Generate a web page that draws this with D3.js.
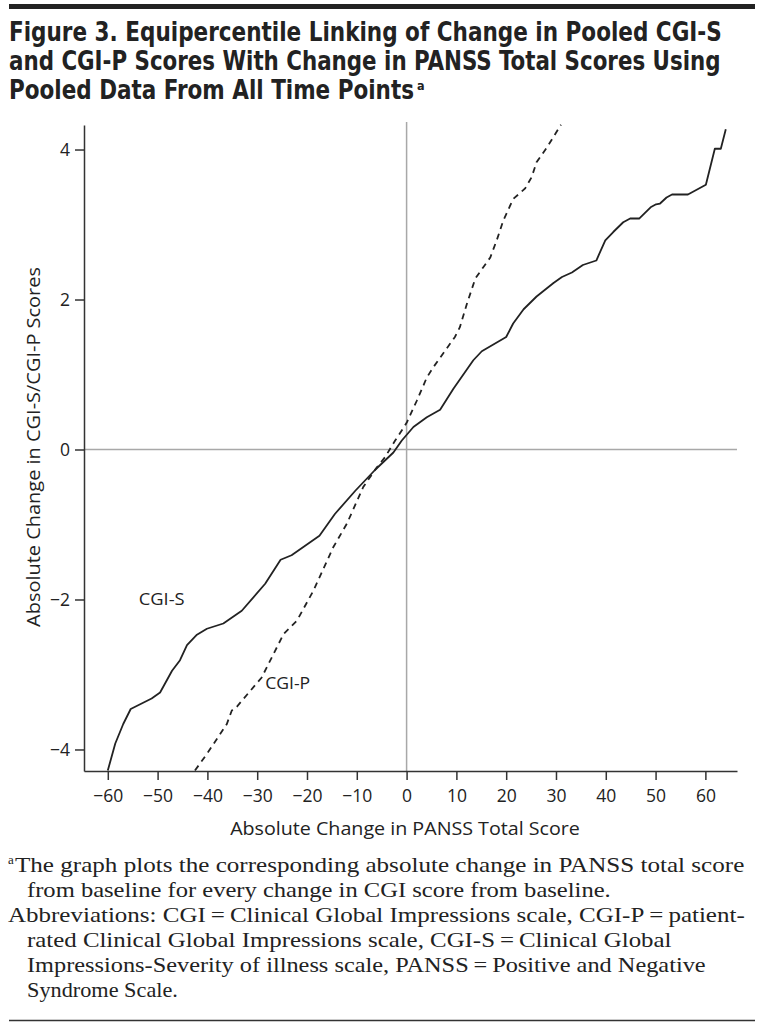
<!DOCTYPE html>
<html>
<head>
<meta charset="utf-8">
<script src="https://cdn.jsdelivr.net/npm/d3@7"></script>
<style>
html,body{margin:0;padding:0;background:#fff;}
svg{display:block;}
</style>
</head>
<body>
<svg id="chart" width="763" height="1024"></svg>
<script>
// ---- Data ----
const cgiS_x = [-60.0,-58.5,-56.9,-55.4,-51.2,-49.5,-47.1,-45.5,-44.1,-42.1,-40.1,-36.8,-33.1,-28.4,-25.3,-23.1,-17.5,-14.4,-10.3,-6.3,-2.65,-0.96,1.37,4.06,6.73,9.4,13.4,15.1,20.0,21.4,23.5,26.1,29.5,31.2,33.2,35.4,38.1,39.9,41.5,43.5,44.9,46.7,49.0,50.1,50.9,52.2,53.3,56.5,60.1,61.9,63.1,64.1];
const cgiS_y = [-4.28,-3.92,-3.66,-3.46,-3.32,-3.24,-2.95,-2.81,-2.61,-2.47,-2.39,-2.32,-2.15,-1.79,-1.47,-1.41,-1.15,-0.86,-0.55,-0.27,-0.04,0.12,0.30,0.43,0.53,0.81,1.19,1.31,1.50,1.68,1.87,2.04,2.22,2.30,2.36,2.46,2.52,2.79,2.90,3.03,3.08,3.08,3.23,3.27,3.28,3.36,3.40,3.40,3.53,4.01,4.01,4.27];
const cgiP_x = [-42.5,-40.1,-36.1,-35.1,-34.1,-29.1,-24.7,-22.0,-18.7,-14.7,-12.0,-8.7,-6.0,-4.3,-2.3,-1.3,0.04,2.05,4.06,5.4,9.7,10.7,12.1,13.8,15.4,16.8,18.1,19.4,21.4,23.8,25.1,26.1,28.2,31.0];
const cgiP_y = [-4.28,-4.06,-3.66,-3.48,-3.43,-3.04,-2.46,-2.28,-1.88,-1.30,-0.99,-0.50,-0.24,-0.10,0.12,0.22,0.36,0.65,0.96,1.10,1.50,1.63,1.94,2.28,2.43,2.56,2.79,3.05,3.34,3.48,3.63,3.83,4.03,4.33];
const xTicks = [-60,-50,-40,-30,-20,-10,0,10,20,30,40,50,60];
const yTicks = [-4,-2,0,2,4];
const titleLines = [
  "Figure 3. Equipercentile Linking of Change in Pooled CGI-S",
  "and CGI-P Scores With Change in PANSS Total Scores Using",
  "Pooled Data From All Time Points"
];
const footLines = [
  "The graph plots the corresponding absolute change in PANSS total score",
  "from baseline for every change in CGI score from baseline.",
  "Abbreviations: CGI\u2009=\u2009Clinical Global Impressions scale, CGI-P\u2009=\u2009patient-",
  "rated Clinical Global Impressions scale, CGI-S\u2009=\u2009Clinical Global",
  "Impressions-Severity of illness scale, PANSS\u2009=\u2009Positive and Negative",
  "Syndrome Scale."
];
const xTitle = "Absolute Change in PANSS Total Score";
const yTitle = "Absolute Change in CGI-S/CGI-P Scores";
const seriesLabels = ["CGI-S","CGI-P"];

// ---- Layout ----
const svg = d3.select("#chart");
const sansFont = "'Open Sans', 'Noto Sans', sans-serif";
const titleFont = "'Liberation Sans Narrow', 'DejaVu Sans Condensed', 'Open Sans', sans-serif";
const serifFont = "'Liberation Serif', 'DejaVu Serif', serif";

// helper: place text starting at (x,y) and squeeze horizontally to target width
function fitText(sel, x0, y0, width, rotate) {
  const w = sel.node().getComputedTextLength();
  const s = w > 0 ? width / w : 1;
  sel.attr("transform", `translate(${x0},${y0})${rotate ? " rotate(" + rotate + ")" : ""} scale(${s},1)`);
  return sel;
}

svg.append("rect").attr("x",0).attr("y",0).attr("width",763).attr("height",1024).attr("fill","#fff");

// top bar and bottom rule
svg.append("rect").attr("x",9).attr("y",4).attr("width",746).attr("height",5).attr("fill","#222");
svg.append("line").attr("x1",9).attr("x2",755).attr("y1",1020.5).attr("y2",1020.5).attr("stroke","#333").attr("stroke-width",1.5);

// Title
const titleBase = [41, 70, 99];
const titleLen = [713, 712, 405];
titleLines.forEach((t,i)=>{
  const el = svg.append("text")
    .attr("font-family",titleFont).attr("font-weight","bold").attr("font-size",27)
    .attr("fill","#222").text(t);
  fitText(el, 9, titleBase[i], titleLen[i]);
});
svg.append("text").attr("x",417).attr("y",90).attr("font-family",titleFont).attr("font-weight","bold")
  .attr("font-size",12.5).attr("fill","#222").text("a");

// Scales
const x = d3.scaleLinear().domain([-64.78, 66.35]).range([84, 737]);
const y = d3.scaleLinear().domain([-4.287, 4.327]).range([771, 125]);

// zero reference lines
svg.append("line").attr("x1",x(0)).attr("x2",x(0)).attr("y1",122).attr("y2",771)
  .attr("stroke","#a8a8a8").attr("stroke-width",1.5);
svg.append("line").attr("x1",84).attr("x2",737).attr("y1",y(0)).attr("y2",y(0))
  .attr("stroke","#a8a8a8").attr("stroke-width",1.5);

// Axes
const xAxis = svg.append("g").attr("transform","translate(0,771)")
  .call(d3.axisBottom(x).tickValues(xTicks).tickSize(9).tickPadding(10).tickSizeOuter(0));
const yAxis = svg.append("g").attr("transform","translate(84,0)")
  .call(d3.axisLeft(y).tickValues(yTicks).tickSize(9).tickPadding(5).tickSizeOuter(0));
[xAxis,yAxis].forEach(a=>{
  a.select(".domain").attr("stroke","#333").attr("stroke-width",1.5);
  a.selectAll(".tick line").attr("stroke","#333").attr("stroke-width",1.5);
  a.selectAll(".tick text").attr("font-family",sansFont).attr("font-size",17.5).attr("fill","#222");
});

// Axis titles
const xt = svg.append("text").attr("text-anchor","middle")
  .attr("font-family",sansFont).attr("font-size",18).attr("fill","#222").text(xTitle);
fitText(xt, 405, 835, 350);
const yt = svg.append("text").attr("text-anchor","middle")
  .attr("font-family",sansFont).attr("font-size",18).attr("fill","#222").text(yTitle);
fitText(yt, 40, 447, 360, -90);

// Lines
const line = d3.line().x(d=>x(d[0])).y(d=>y(d[1]));
const sData = cgiS_x.map((v,i)=>[v,cgiS_y[i]]);
const pData = cgiP_x.map((v,i)=>[v,cgiP_y[i]]);
svg.append("path").datum(sData).attr("d",line).attr("fill","none")
  .attr("stroke","#222").attr("stroke-width",1.8).attr("stroke-linejoin","round");
svg.append("path").datum(pData).attr("d",line).attr("fill","none")
  .attr("stroke","#222").attr("stroke-width",1.8).attr("stroke-dasharray","6,5");

// Series labels
const l1 = svg.append("text").attr("font-family",sansFont)
  .attr("font-size",17).attr("fill","#222").text(seriesLabels[0]);
fitText(l1, x(-53.8), y(-2.08), 46);
const l2 = svg.append("text").attr("font-family",sansFont)
  .attr("font-size",17).attr("fill","#222").text(seriesLabels[1]);
fitText(l2, x(-28.4), y(-3.19), 45);

// Footnotes
const footX = [15, 27, 8, 27, 27, 27];
const footY = [872, 897, 922, 947, 972, 997];
const footLen = [730, 584, 737, 645, 679, 151];
footLines.forEach((t,i)=>{
  const el = svg.append("text")
    .attr("font-family",serifFont).attr("font-size",21).attr("fill","#222").text(t);
  fitText(el, footX[i], footY[i], footLen[i]);
});
svg.append("text").attr("x",8).attr("y",864).attr("font-family",serifFont)
  .attr("font-size",13).attr("fill","#222").text("a");
</script>
</body>
</html>
